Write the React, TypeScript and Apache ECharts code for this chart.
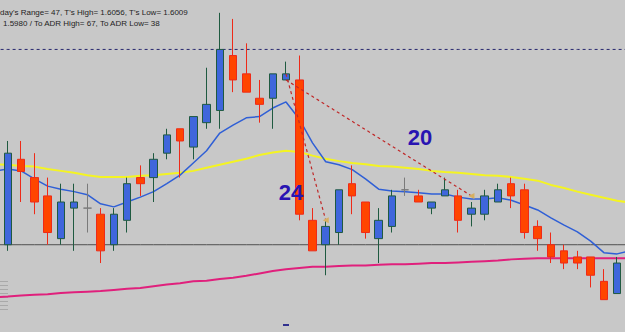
import React, { useEffect, useRef } from "react";
import * as echarts from "echarts";

// 49 slots: one hidden slot at each edge so the moving averages reach the borders
const categories = Array.from({ length: 49 }, (_, i) => `B${i}`);

const opens = [null,
  1.6018, 1.6032, 1.6029, 1.6026, 1.6019, 1.6024, 1.6024, 1.6023, 1.6018, 1.6022,
  1.6029, 1.6029, 1.6033, 1.6037, 1.6034, 1.6038, 1.6040, 1.6049, 1.6046, 1.6042,
  1.6042, 1.6045, 1.6045, 1.6022, 1.6018, 1.6020, 1.6028, 1.6025, 1.6019, 1.6021,
  1.6027, 1.6026, 1.6024, 1.6026, 1.6026, 1.6023, 1.6023, 1.6025, 1.6028, 1.6027,
  1.6021, 1.6018, 1.6017, 1.6016, 1.6016, 1.6012, 1.6010, null];
const closes = [null,
  1.6033, 1.6030, 1.6025, 1.6020, 1.6025, 1.6025, 1.6024, 1.6017, 1.6023, 1.6028,
  1.6028, 1.6032, 1.6036, 1.6035, 1.6039, 1.6041, 1.6050, 1.6045, 1.6043, 1.6041,
  1.6046, 1.6046, 1.6023, 1.6017, 1.6021, 1.6027, 1.6026, 1.6020, 1.6022, 1.6026,
  1.6027, 1.6025, 1.6025, 1.6027, 1.6022, 1.6024, 1.6026, 1.6027, 1.6026, 1.6020,
  1.6019, 1.6016, 1.6015, 1.6015, 1.6013, 1.6009, 1.6015, null];
const lows = [null,
  1.6017, 1.6025, 1.6023, 1.6018, 1.6018, 1.6017, 1.6020, 1.6015, 1.6017, 1.6020,
  1.6026, 1.6025, 1.6032, 1.6029, 1.6032, 1.6037, 1.6037, 1.6043, 1.6043, 1.6038,
  1.6037, 1.6045, 1.6022, 1.6017, 1.6013, 1.6018, 1.6023, 1.6019, 1.6015, 1.6020,
  1.6026, 1.6025, 1.6023, 1.6026, 1.6020, 1.6021, 1.6022, 1.6025, 1.6024, 1.6019,
  1.6017, 1.6015, 1.6014, 1.6014, 1.6011, 1.6009, 1.6010, null];
const highs = [null,
  1.6035, 1.6035, 1.6033, 1.6029, 1.6028, 1.6028, 1.6028, 1.6024, 1.6024, 1.6029,
  1.6031, 1.6033, 1.6037, 1.6037, 1.6039, 1.6047, 1.6056, 1.6055, 1.6051, 1.6045,
  1.6046, 1.6048, 1.6049, 1.6024, 1.6022, 1.6027, 1.6031, 1.6025, 1.6024, 1.6027,
  1.6029, 1.6027, 1.6025, 1.6029, 1.6027, 1.6025, 1.6027, 1.6028, 1.6029, 1.6028,
  1.6022, 1.6020, 1.6018, 1.6017, 1.6016, 1.6014, 1.6016, null];

const yellowMA = [1.60312,
  1.60311, 1.60309, 1.60308, 1.60304, 1.60301, 1.60298, 1.60294, 1.60291, 1.60291, 1.60291,
  1.60293, 1.60294, 1.60296, 1.60298, 1.60301, 1.60306, 1.60311, 1.60316, 1.60321, 1.60327,
  1.60331, 1.60334, 1.60332, 1.60326, 1.60321, 1.60317, 1.60314, 1.60312, 1.60309, 1.60308,
  1.60306, 1.60304, 1.60301, 1.60299, 1.60298, 1.60296, 1.60294, 1.60293, 1.60291, 1.60288,
  1.60285, 1.60278, 1.60273, 1.60267, 1.60262, 1.60257, 1.60252, 1.60249];
const blueMA = [1.60301,
  1.60304, 1.60301, 1.60288, 1.60276, 1.60271, 1.60267, 1.60262, 1.60247, 1.60242, 1.60250,
  1.60258, 1.60267, 1.60280, 1.60294, 1.60314, 1.60334, 1.60363, 1.60376, 1.60388, 1.60390,
  1.60404, 1.60414, 1.60386, 1.60347, 1.60316, 1.60311, 1.60303, 1.60288, 1.60271, 1.60268,
  1.60267, 1.60265, 1.60263, 1.60263, 1.60258, 1.60255, 1.60255, 1.60257, 1.60253, 1.60245,
  1.60237, 1.60224, 1.60212, 1.60201, 1.60186, 1.60167, 1.60165, 1.60170];
const pinkMA = [1.60094,
  1.60095, 1.60097, 1.60098, 1.60099, 1.60101, 1.60102, 1.60103, 1.60104, 1.60106, 1.60108,
  1.60109, 1.60112, 1.60115, 1.60117, 1.60120, 1.60121, 1.60124, 1.60126, 1.60129, 1.60133,
  1.60137, 1.60140, 1.60142, 1.60144, 1.60144, 1.60145, 1.60146, 1.60146, 1.60147, 1.60148,
  1.60148, 1.60149, 1.60150, 1.60150, 1.60151, 1.60152, 1.60153, 1.60154, 1.60156, 1.60157,
  1.60158, 1.60158, 1.60158, 1.60158, 1.60158, 1.60158, 1.60158, 1.60158];

const dojiSlots = [7, 31];
const todayHighLine = 1.6050;
const baseLine = 1.6018;
const infoLine1 = "day's Range= 47, T's High= 1.6056, T's Low= 1.6009";
const infoLine2 = "1.5980 / To ADR High= 67, To ADR Low= 38";
const moveLines = [
  { from: [22, 1.6046], to: [25, 1.6022] },
  { from: [22, 1.6045], to: [36, 1.6026] },
];

const SHIFT = 12; // chart canvas starts 12px left of the visible window

export default function App() {
  const ref = useRef<HTMLDivElement>(null);
  useEffect(() => {
    if (!ref.current) return;
    const chart = echarts.init(ref.current, undefined, { renderer: "svg" });
    const candleData = categories.map((_, i) => {
      if (opens[i] == null) return ["-", "-", "-", "-"];
      const v = [opens[i], closes[i], lows[i], highs[i]];
      if (dojiSlots.includes(i)) {
        return { value: v, itemStyle: { borderColor: "#7a7a7a", borderColor0: "#7a7a7a" } };
      }
      return v;
    });
    const font8 = "8px 'Liberation Sans', Arial, sans-serif";
    const font22 = "bold 22px 'Liberation Sans', Arial, sans-serif";
    const ladder = Array.from({ length: 8 }, (_, k) => ({
      type: "rect", left: SHIFT, top: 281 + k * 4, shape: { width: 8, height: 1 },
      style: { fill: "#a9a9a9" }, silent: true,
    }));
    chart.setOption({
      animation: false,
      backgroundColor: "#c8c8c8",
      grid: { left: 0, top: 0, right: 0, bottom: 0 },
      xAxis: { type: "category", data: categories, show: false, boundaryGap: true },
      yAxis: { type: "value", min: 1.60037, max: 1.60581, show: false, splitLine: { show: false } },
      series: [
        {
          type: "line", data: categories.map(() => todayHighLine), symbol: "none", z: 1,
          lineStyle: { color: "#26266e", type: [3, 3], width: 1 }, silent: true,
        },
        {
          type: "line", data: categories.map(() => baseLine), symbol: "none", z: 1,
          lineStyle: { color: "#505050", width: 1 }, silent: true,
        },
        {
          type: "line", data: pinkMA, symbol: "none", z: 2,
          lineStyle: { color: "#e0207c", width: 2 },
        },
        {
          type: "line", data: yellowMA, symbol: "none", z: 2,
          lineStyle: { color: "#f4f422", width: 2 },
        },
        {
          type: "line", data: blueMA, symbol: "none", z: 2,
          lineStyle: { color: "#2f5fd6", width: 1.5 },
        },
        {
          type: "candlestick", data: candleData, barWidth: 8, z: 3,
          itemStyle: {
            color: "#3f66dc", color0: "#ff4500",
            borderColor: "#1f5a40", borderColor0: "#ee2a18", borderWidth: 1,
          },
          markLine: {
            silent: true, symbol: "none", animation: false,
            label: { show: false },
            data: moveLines.map((l) => [
              { coord: [categories[l.from[0]], l.from[1]], lineStyle: { color: "#c02828", type: [3, 3], width: 1.2 } },
              { coord: [categories[l.to[0]], l.to[1]] },
            ]),
          },
          markPoint: {
            silent: true,
            label: { show: false },
            data: moveLines.map((l) => ({
              coord: [categories[l.to[0]], l.to[1]],
              symbol: "triangle", symbolSize: 6, symbolRotate: 90,
              itemStyle: { color: "#d8b060" },
            })),
          },
        },
      ],
      graphic: [
        {
          type: "text", left: SHIFT, top: 8,
          style: { text: infoLine1, fill: "#1e1e1e", font: font8 },
        },
        {
          type: "text", left: SHIFT + 3, top: 19,
          style: { text: infoLine2, fill: "#1e1e1e", font: font8 },
        },
        {
          type: "text", x: SHIFT + 291, y: 192, z: 10,
          style: { text: "24", fill: "#2814b2", font: font22, align: "center", verticalAlign: "middle" },
        },
        {
          type: "text", x: SHIFT + 420, y: 137, z: 10,
          style: { text: "20", fill: "#2814b2", font: font22, align: "center", verticalAlign: "middle" },
        },
        { type: "rect", left: SHIFT + 283, top: 324, shape: { width: 6, height: 2 }, style: { fill: "#30308e" } },
        ...ladder,
      ],
    });
    return () => chart.dispose();
  }, []);
  return (
    <div style={{ position: "fixed", left: 0, top: 0, width: 625, height: 332, overflow: "hidden" }}>
      <div ref={ref} style={{ position: "absolute", left: -SHIFT, top: 0, width: 649, height: 332 }} />
    </div>
  );
}
